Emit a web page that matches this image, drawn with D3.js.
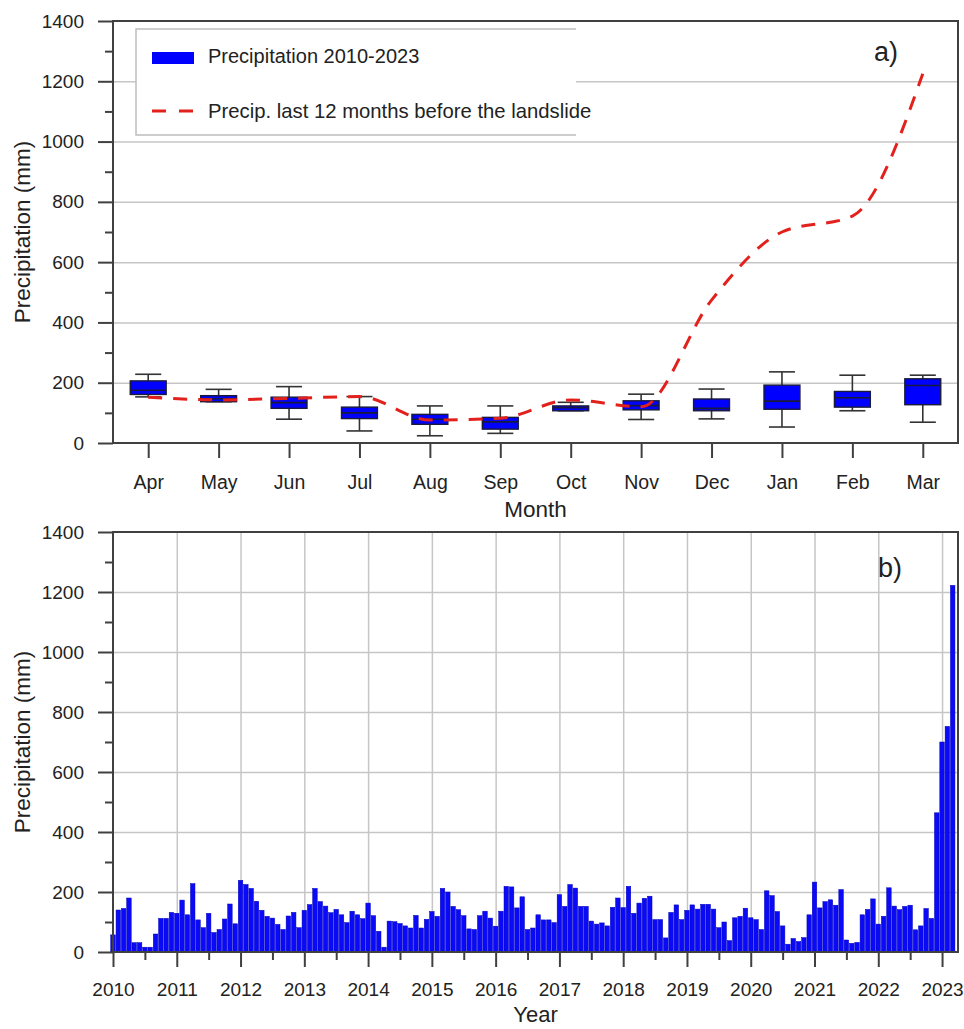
<!DOCTYPE html>
<html>
<head>
<meta charset="utf-8">
<script src="https://cdn.jsdelivr.net/npm/d3@7"></script>
<style>
  body { margin: 0; background: #fff; }
  svg text { font-family: "Liberation Sans", Arial, sans-serif; fill: #222; }
</style>
</head>
<body>
<div id="chart"></div>
<script>
// Panel a) data: monthly box plots 2010-2023 and the 12 months before the landslide
var months = ["Apr", "May", "Jun", "Jul", "Aug", "Sep", "Oct", "Nov", "Dec", "Jan", "Feb", "Mar"];
var whiskerLow = [153, 137, 79, 40, 24, 32, 107, 78, 80, 53, 107, 69];
var q1 = [161, 137, 115, 81, 62, 46, 107, 110, 107, 112, 119, 127];
var median = [175, 147, 134, 100, 79, 70, 117, 124, 115, 139, 150, 191];
var q3 = [206, 157, 152, 119, 95, 85, 123, 140, 146, 192, 171, 213];
var whiskerHigh = [228, 178, 187, 154, 123, 123, 135, 162, 179, 236, 225, 225];
var lastYear = [152, 143, 148, 154, 76, 82, 143, 120, 474, 700, 753, 1225];

// Panel b) data: monthly precipitation Jan 2010 - Mar 2023
var monthly = [
  57, 140, 145, 180, 31, 31, 16, 16, 60, 112, 112, 132,      // 2010
  129, 173, 124, 228, 107, 81, 129, 65, 75, 110, 160, 94,    // 2011
  239, 225, 212, 169, 139, 119, 113, 92, 75, 120, 132, 81,   // 2012
  139, 158, 212, 168, 153, 131, 142, 124, 98, 136, 124, 111, // 2013
  163, 121, 69, 16, 103, 101, 95, 87, 80, 122, 80, 109,      // 2014
  135, 119, 212, 200, 152, 141, 121, 77, 75, 121, 136, 113,  // 2015
  86, 136, 219, 217, 147, 184, 75, 80, 124, 107, 107, 98,    // 2016
  191, 152, 225, 213, 152, 152, 103, 93, 97, 87, 149, 180,   // 2017
  148, 219, 129, 163, 179, 186, 108, 108, 47, 132, 157, 108, // 2018
  139, 157, 143, 159, 159, 143, 81, 100, 38, 114, 119, 146,  // 2019
  114, 108, 75, 204, 188, 135, 87, 26, 45, 35, 48, 124,      // 2020
  233, 147, 168, 174, 156, 208, 40, 29, 32, 124, 142, 177,   // 2021
  93, 119, 214, 153, 141, 152, 156, 74, 87, 145, 112, 464,   // 2022
  700, 752, 1222                                             // 2023
];
var years = d3.range(2010, 2024);
var yTicks = [0, 200, 400, 600, 800, 1000, 1200, 1400];
var yMinor = [100, 300, 500, 700, 900, 1100, 1300];

var svg = d3.select("#chart").append("svg")
  .attr("width", 964)
  .attr("height", 1029);

var axisColor = "#404040";
var gridColor = "#c6c6c6";
var blue = "#0000ff";
var red = "#e3211c";

function styleAxis(size) {
  return function (g) {
    g.select(".domain").remove();
    g.selectAll(".tick line").attr("stroke", axisColor).attr("stroke-width", 2);
    g.selectAll(".tick text").attr("font-size", size).attr("fill", "#222");
  };
}

// ---------- panel a ----------
var pa = { left: 113, right: 958, top: 21, bottom: 443 };
var xa = d3.scaleLinear().domain([0.5, 12.5]).range([pa.left, pa.right]);
var ya = d3.scaleLinear().domain([0, 1400]).range([pa.bottom, pa.top]);

// horizontal grid
svg.append("g")
  .attr("transform", "translate(" + pa.left + ",0)")
  .call(d3.axisLeft(ya).tickValues([200, 400, 600, 800, 1000, 1200]).tickSize(-(pa.right - pa.left)).tickFormat(""))
  .call(function (g) {
    g.select(".domain").remove();
    g.selectAll(".tick line").attr("stroke", gridColor).attr("stroke-width", 1.5);
  });

var step = xa(2) - xa(1);
var boxW = step * 0.51;
var capW = step * 0.37;

var boxes = svg.append("g");
months.forEach(function (m, i) {
  var cx = xa(i + 1);
  var b = boxes.append("g");
  // whiskers
  b.append("line").attr("x1", cx).attr("x2", cx).attr("y1", ya(whiskerHigh[i])).attr("y2", ya(q3[i]))
    .attr("stroke", "#333").attr("stroke-width", 1.6);
  b.append("line").attr("x1", cx).attr("x2", cx).attr("y1", ya(q1[i])).attr("y2", ya(whiskerLow[i]))
    .attr("stroke", "#333").attr("stroke-width", 1.6);
  b.append("line").attr("x1", cx - capW / 2).attr("x2", cx + capW / 2).attr("y1", ya(whiskerHigh[i])).attr("y2", ya(whiskerHigh[i]))
    .attr("stroke", "#333").attr("stroke-width", 1.6);
  b.append("line").attr("x1", cx - capW / 2).attr("x2", cx + capW / 2).attr("y1", ya(whiskerLow[i])).attr("y2", ya(whiskerLow[i]))
    .attr("stroke", "#333").attr("stroke-width", 1.6);
  // box
  b.append("rect")
    .attr("x", cx - boxW / 2)
    .attr("y", ya(q3[i]))
    .attr("width", boxW)
    .attr("height", Math.max(1, ya(q1[i]) - ya(q3[i])))
    .attr("fill", blue)
    .attr("stroke", "#1a1a3a")
    .attr("stroke-width", 1.4);
  b.append("line").attr("x1", cx - boxW / 2).attr("x2", cx + boxW / 2).attr("y1", ya(median[i])).attr("y2", ya(median[i]))
    .attr("stroke", "#1a1a3a").attr("stroke-width", 1.6);
});

// dashed line: last 12 months before the landslide
var line = d3.line()
  .x(function (d, i) { return xa(i + 1); })
  .y(function (d) { return ya(d); })
  .curve(d3.curveMonotoneX);

svg.append("path")
  .datum(lastYear)
  .attr("d", line)
  .attr("fill", "none")
  .attr("stroke", red)
  .attr("stroke-width", 3)
  .attr("stroke-dasharray", "14,11");

// axes
svg.append("g")
  .attr("transform", "translate(" + pa.left + ",0)")
  .call(d3.axisLeft(ya).tickValues(yTicks).tickSize(15).tickPadding(14).tickFormat(d3.format("d")))
  .call(styleAxis("19px"));
svg.append("g")
  .attr("transform", "translate(" + pa.left + ",0)")
  .call(d3.axisLeft(ya).tickValues(yMinor).tickSize(8).tickFormat(""))
  .call(styleAxis("19px"));
svg.append("g")
  .attr("transform", "translate(0," + pa.bottom + ")")
  .call(d3.axisBottom(xa).tickValues(d3.range(1, 13)).tickSize(15).tickPadding(17)
    .tickFormat(function (d) { return months[d - 1]; }))
  .call(styleAxis("19.5px"));

svg.append("rect")
  .attr("x", pa.left).attr("y", pa.top)
  .attr("width", pa.right - pa.left).attr("height", pa.bottom - pa.top)
  .attr("fill", "none").attr("stroke", axisColor).attr("stroke-width", 2);

// legend
var legend = svg.append("g");
legend.append("path")
  .attr("d", "M576,29H136V135H576")
  .attr("fill", "#fff")
  .attr("stroke", "#bdbdbd")
  .attr("stroke-width", 1.5);
legend.append("rect")
  .attr("x", 152).attr("y", 52).attr("width", 42).attr("height", 12)
  .attr("fill", blue);
legend.append("text")
  .attr("x", 208).attr("y", 63)
  .attr("font-size", "20px")
  .text("Precipitation 2010-2023");
legend.append("line")
  .attr("x1", 152).attr("x2", 194).attr("y1", 111).attr("y2", 111)
  .attr("stroke", red).attr("stroke-width", 3).attr("stroke-dasharray", "14,13");
legend.append("text")
  .attr("x", 208).attr("y", 118)
  .attr("font-size", "20.3px")
  .text("Precip. last 12 months before the landslide");

svg.append("text")
  .attr("x", 874).attr("y", 61)
  .attr("font-size", "27px")
  .text("a)");

svg.append("text")
  .attr("x", (pa.left + pa.right) / 2).attr("y", 517)
  .attr("text-anchor", "middle")
  .attr("font-size", "22.5px")
  .text("Month");

svg.append("text")
  .attr("transform", "translate(30," + (pa.top + pa.bottom) / 2 + ") rotate(-90)")
  .attr("text-anchor", "middle")
  .attr("font-size", "22.5px")
  .text("Precipitation (mm)");

// ---------- panel b ----------
var pb = { left: 113, right: 958, top: 532, bottom: 952 };
var xb = d3.scaleLinear().domain([2010, 2023.25]).range([pb.left, pb.right]);
var yb = d3.scaleLinear().domain([0, 1400]).range([pb.bottom, pb.top]);

svg.append("g")
  .attr("transform", "translate(" + pb.left + ",0)")
  .call(d3.axisLeft(yb).tickValues([200, 400, 600, 800, 1000, 1200]).tickSize(-(pb.right - pb.left)).tickFormat(""))
  .call(function (g) {
    g.select(".domain").remove();
    g.selectAll(".tick line").attr("stroke", gridColor).attr("stroke-width", 1.5);
  });
svg.append("g")
  .attr("transform", "translate(0," + pb.top + ")")
  .call(d3.axisBottom(xb).tickValues(years.slice(1)).tickSize(pb.bottom - pb.top).tickFormat(""))
  .call(function (g) {
    g.select(".domain").remove();
    g.selectAll(".tick line").attr("stroke", gridColor).attr("stroke-width", 1.5);
  });

var barW = xb(2010 + 1 / 12) - xb(2010);

svg.append("g")
  .selectAll("rect")
  .data(monthly)
  .enter()
  .append("rect")
  .attr("x", function (d, i) { return xb(2010 + i / 12) - barW / 2 + 0.4; })
  .attr("y", function (d) { return yb(d); })
  .attr("width", barW - 0.8)
  .attr("height", function (d) { return yb(0) - yb(d); })
  .attr("fill", "#0a0af8")
  .attr("stroke", "#0000b8")
  .attr("stroke-width", 0.5);

svg.append("g")
  .attr("transform", "translate(" + pb.left + ",0)")
  .call(d3.axisLeft(yb).tickValues(yTicks).tickSize(15).tickPadding(14).tickFormat(d3.format("d")))
  .call(styleAxis("19px"));
svg.append("g")
  .attr("transform", "translate(" + pb.left + ",0)")
  .call(d3.axisLeft(yb).tickValues(yMinor).tickSize(8).tickFormat(""))
  .call(styleAxis("19px"));
svg.append("g")
  .attr("transform", "translate(0," + pb.bottom + ")")
  .call(d3.axisBottom(xb).tickValues(years).tickSize(15).tickPadding(16).tickFormat(d3.format("d")))
  .call(styleAxis("19px"));
svg.append("g")
  .attr("transform", "translate(0," + pb.bottom + ")")
  .call(d3.axisBottom(xb).tickValues(years.slice(0, 13).map(function (y) { return y + 0.5; })).tickSize(8).tickFormat(""))
  .call(styleAxis("19px"));

svg.append("rect")
  .attr("x", pb.left).attr("y", pb.top)
  .attr("width", pb.right - pb.left).attr("height", pb.bottom - pb.top)
  .attr("fill", "none").attr("stroke", axisColor).attr("stroke-width", 2);

svg.append("text")
  .attr("x", 878).attr("y", 577)
  .attr("font-size", "27px")
  .text("b)");

svg.append("text")
  .attr("x", (pb.left + pb.right) / 2).attr("y", 1022)
  .attr("text-anchor", "middle")
  .attr("font-size", "22px")
  .text("Year");

svg.append("text")
  .attr("transform", "translate(30," + (pb.top + pb.bottom) / 2 + ") rotate(-90)")
  .attr("text-anchor", "middle")
  .attr("font-size", "22.5px")
  .text("Precipitation (mm)");
</script>
</body>
</html>
